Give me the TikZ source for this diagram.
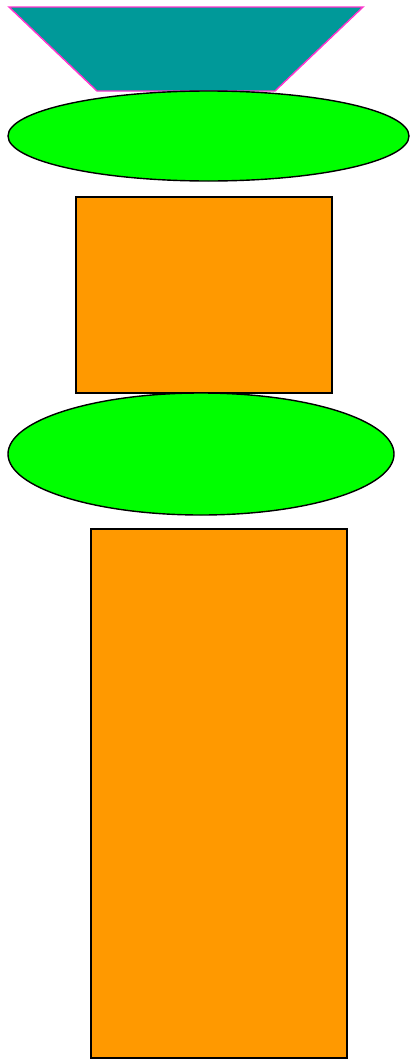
\documentclass[tikz,border=0pt]{standalone}
\usepackage{xcolor}
\usepackage{tikz}
\usetikzlibrary{positioning,shapes.geometric}
\definecolor{tealfill}{HTML}{009999}
\definecolor{pinkline}{HTML}{FF33CC}
\definecolor{limefill}{HTML}{00FF00}
\definecolor{orangefill}{HTML}{FF9900}

\begin{document}
\begin{tikzpicture}[x=1pt, y=-1pt,
    blob/.style={draw=black, fill=limefill, ellipse, inner sep=0pt, line width=1.4pt},
    slab/.style={draw=black, fill=orangefill, rectangle, inner sep=0pt, line width=1.4pt}]
    \useasboundingbox (0,0) rectangle (410,1060);
    % hopper on top
    \draw[draw=pinkline, fill=tealfill, line width=1.4pt]
      (9,7) -- (363,7) -- (275,91) -- (97,91) -- cycle;
    \node[blob, minimum width=401pt, minimum height=90pt] (e1) at (208.5,136) {};
    \node[slab, minimum width=256pt, minimum height=196pt] (r1) at (204,295) {};
    \node[blob, minimum width=386pt, minimum height=122pt] (e2) at (201,454) {};
    \node[slab, minimum width=256pt, minimum height=529pt] (r2) at (219,793.5) {};
  \end{tikzpicture}
\end{document}
